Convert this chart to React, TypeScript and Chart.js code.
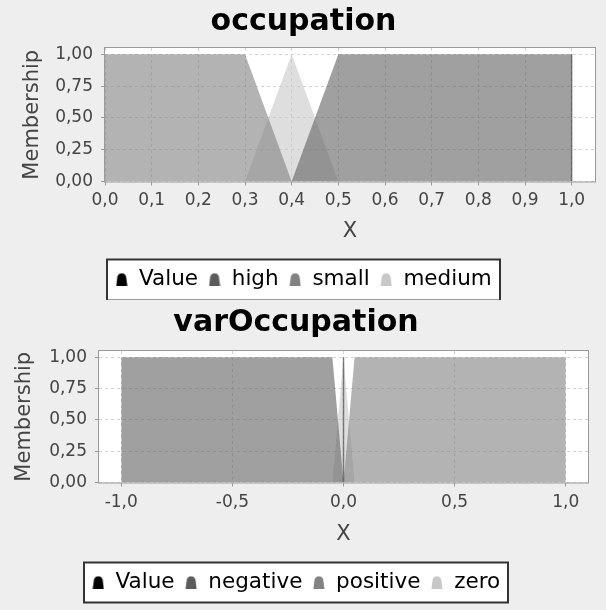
import React, { useEffect, useRef } from 'react';
import { Chart, registerables } from 'chart.js';

Chart.register(...registerables);

const FONT = "'DejaVu Sans', sans-serif";

// ---------- occupation ----------
const occTitle = 'occupation';
const occSeries = ['Value', 'high', 'small', 'medium'];
const occValueX = [1.0, 1.0];
const occValueY = [0, 1];
const occHighX = [0.4, 0.5, 1.0, 1.0];
const occHighY = [0, 1, 1, 0];
const occSmallX = [0.0, 0.3, 0.4];
const occSmallY = [1, 1, 0];
const occMediumX = [0.3, 0.4, 0.5];
const occMediumY = [0, 1, 0];
const occXTicks = [0, 0.1, 0.2, 0.3, 0.4, 0.5, 0.6, 0.7, 0.8, 0.9, 1.0];
const occXRange = [0, 1.05];

// ---------- varOccupation ----------
const varTitle = 'varOccupation';
const varSeries = ['Value', 'negative', 'positive', 'zero'];
const varValueX = [0, 0];
const varValueY = [0, 1];
const varNegativeX = [-1, -1, -0.05, 0];
const varNegativeY = [0, 1, 1, 0];
const varPositiveX = [0, 0.05, 1, 1];
const varPositiveY = [0, 1, 1, 0];
const varZeroX = [-0.05, 0, 0.05];
const varZeroY = [0, 1, 0];
const varXTicks = [-1, -0.5, 0, 0.5, 1];
const varXRange = [-1.1, 1.1];

// ---------- shared ----------
const yTicks = [0, 0.25, 0.5, 0.75, 1];
const yRange = [0, 1.05];
const xTitle = 'X';
const yTitle = 'Membership';
const markerColors = ['#000000', '#5c5c5c', '#828282', '#c8c8c8'];
const fillColors = [
  'rgba(0,0,0,0.45)',
  'rgba(96,96,96,0.6)',
  'rgba(128,128,128,0.6)',
  'rgba(200,200,200,0.6)',
];

function makeMarker(color: string): HTMLCanvasElement {
  const c = document.createElement('canvas');
  c.width = 12;
  c.height = 13;
  const g = c.getContext('2d')!;
  g.fillStyle = color;
  g.beginPath();
  g.moveTo(0.5, 13);
  g.lineTo(1.5, 5);
  g.arc(6, 5, 4.5, Math.PI, 0);
  g.lineTo(11.5, 13);
  g.closePath();
  g.fill();
  return c;
}

function legendRect(chart: any, opts: any) {
  const lg = chart.legend;
  const hb = lg && lg.legendHitBoxes;
  if (!hb || !hb.length) return null;
  const last = hb[hb.length - 1];
  const l = Math.round(hb[0].left) - 8;
  const r = Math.round(last.left + last.width) + 8;
  return { x: l, y: lg.top + opts.boxTop, w: r - l, h: opts.boxHeight };
}

const framePlugin = {
  id: 'jfFrame',
  beforeDraw(chart: any, _args: any, opts: any) {
    const { ctx, chartArea: a } = chart;
    ctx.save();
    ctx.fillStyle = '#ffffff';
    ctx.fillRect(a.left, a.top, a.right - a.left, a.bottom - a.top);
    const lr = legendRect(chart, opts);
    if (lr) ctx.fillRect(lr.x, lr.y, lr.w, lr.h);
    ctx.restore();
  },
  afterDraw(chart: any, _args: any, opts: any) {
    const { ctx, chartArea: a } = chart;
    ctx.save();
    ctx.strokeStyle = '#9a9a9a';
    ctx.lineWidth = 1;
    ctx.strokeRect(a.left - 0.5, a.top - 0.5, a.right - a.left + 1, a.bottom - a.top + 1);
    const lr = legendRect(chart, opts);
    if (lr) {
      ctx.strokeStyle = '#333333';
      ctx.lineWidth = 2;
      ctx.strokeRect(lr.x, lr.y, lr.w, lr.h);
    }
    ctx.restore();
  },
};

interface Spec {
  title: string;
  series: string[];
  xs: number[][];
  ys: number[][];
  xTicks: number[];
  xRange: number[];
  xDecimals: number;
  width: number;
  height: number;
  titlePad: { top: number; bottom: number };
  yAxisWidth: number;
  yTitlePad: number;
  xAxisHeight: number;
  xTickPad: number;
  padLeft: number;
  padRight: number;
  padBottom: number;
  boxTop: number;
  boxHeight: number;
}

function buildConfig(s: Spec): any {
  const datasets = s.series.map((name, i) => {
    const data = s.xs[i].map((x, j) => ({ x, y: s.ys[i][j] }));
    const marker = makeMarker(markerColors[i]);
    if (i === 0) {
      return {
        label: name,
        data,
        fill: false,
        borderColor: fillColors[0],
        borderWidth: 1.5,
        pointRadius: 0,
        pointStyle: marker,
        tension: 0,
      };
    }
    return {
      label: name,
      data,
      fill: 'origin',
      backgroundColor: fillColors[i],
      borderColor: 'rgba(0,0,0,0)',
      borderWidth: 0,
      pointRadius: 0,
      pointStyle: marker,
      tension: 0,
    };
  });

  return {
    type: 'line',
    data: { datasets },
    plugins: [framePlugin],
    options: {
      responsive: false,
      animation: false,
      events: [],
      layout: { padding: { top: 0, left: s.padLeft, right: s.padRight, bottom: s.padBottom } },
      plugins: {
        jfFrame: { boxTop: s.boxTop, boxHeight: s.boxHeight },
        tooltip: { enabled: false },
        title: {
          display: true,
          text: s.title,
          color: '#000000',
          font: { family: FONT, size: 30, weight: 'bold', lineHeight: 1.2 },
          padding: s.titlePad,
        },
        legend: {
          display: true,
          position: 'bottom',
          labels: {
            usePointStyle: true,
            pointStyleWidth: 13,
            boxHeight: 21,
            padding: 10,
            color: '#000000',
            font: { family: FONT, size: 21.5, lineHeight: 1 },
          },
        },
      },
      scales: {
        x: {
          type: 'linear',
          min: s.xRange[0],
          max: s.xRange[1],
          afterBuildTicks: (ax: any) => {
            ax.ticks = s.xTicks.map((v) => ({ value: v }));
          },
          afterFit: (ax: any) => {
            ax.height = s.xAxisHeight;
          },
          ticks: {
            autoSkip: false,
            maxRotation: 0,
            minRotation: 0,
            padding: s.xTickPad,
            color: '#444444',
            font: { family: FONT, size: 17 },
            callback: (v: any) => Number(v).toFixed(s.xDecimals).replace('.', ','),
          },
          grid: { color: '#d4d4d4', lineWidth: 1, tickLength: 4, tickColor: '#9a9a9a', tickWidth: 1 },
          border: { display: false, dash: [3, 3] },
          title: {
            display: true,
            text: xTitle,
            color: '#444444',
            font: { family: FONT, size: 21 },
            padding: { top: 0, bottom: 14 },
          },
        },
        y: {
          type: 'linear',
          min: yRange[0],
          max: yRange[1],
          afterBuildTicks: (ax: any) => {
            ax.ticks = yTicks.map((v) => ({ value: v }));
          },
          afterFit: (ax: any) => {
            ax.width = s.yAxisWidth;
          },
          ticks: {
            padding: 8,
            color: '#444444',
            font: { family: FONT, size: 17 },
            callback: (v: any) => Number(v).toFixed(2).replace('.', ','),
          },
          grid: { color: '#d4d4d4', lineWidth: 1, tickLength: 4, tickColor: '#9a9a9a', tickWidth: 1 },
          border: { display: false, dash: [3, 3] },
          title: {
            display: true,
            text: yTitle,
            color: '#444444',
            font: { family: FONT, size: 21 },
            padding: { top: s.yTitlePad, bottom: 0 },
          },
        },
      },
    },
  };
}

function FuzzyChart({ spec }: { spec: Spec }) {
  const ref = useRef<HTMLCanvasElement>(null);
  useEffect(() => {
    const chart = new Chart(ref.current as HTMLCanvasElement, buildConfig(spec));
    return () => chart.destroy();
  }, []);
  return (
    <canvas
      ref={ref}
      width={spec.width}
      height={spec.height}
      style={{ display: 'block', width: spec.width, height: spec.height }}
    />
  );
}

const topSpec: Spec = {
  title: occTitle,
  series: occSeries,
  xs: [occValueX, occHighX, occSmallX, occMediumX],
  ys: [occValueY, occHighY, occSmallY, occMediumY],
  xTicks: occXTicks,
  xRange: occXRange,
  xDecimals: 1,
  width: 606,
  height: 300,
  titlePad: { top: 4, bottom: 8 },
  yAxisWidth: 93,
  yTitlePad: 7.5,
  xAxisHeight: 77,
  xTickPad: 5,
  padLeft: 12,
  padRight: 11,
  padBottom: 0,
  boxTop: 1,
  boxHeight: 41,
};

const bottomSpec: Spec = {
  title: varTitle,
  series: varSeries,
  xs: [varValueX, varNegativeX, varPositiveX, varZeroX],
  ys: [varValueY, varNegativeY, varPositiveY, varZeroY],
  xTicks: varXTicks,
  xRange: varXRange,
  xDecimals: 1,
  width: 591,
  height: 310,
  titlePad: { top: 5, bottom: 10 },
  yAxisWidth: 95,
  yTitlePad: 8,
  xAxisHeight: 79,
  xTickPad: 6,
  padLeft: 4,
  padRight: 3,
  padBottom: 7,
  boxTop: 1,
  boxHeight: 40,
};

export default function App() {
  return (
    <div
      style={{
        position: 'absolute',
        left: 0,
        top: 0,
        width: 606,
        height: 610,
        background: '#eeeeee',
      }}
    >
      <div style={{ position: 'absolute', left: 0, top: 0 }}>
        <FuzzyChart spec={topSpec} />
      </div>
      <div style={{ position: 'absolute', left: 0, top: 300 }}>
        <FuzzyChart spec={bottomSpec} />
      </div>
    </div>
  );
}
